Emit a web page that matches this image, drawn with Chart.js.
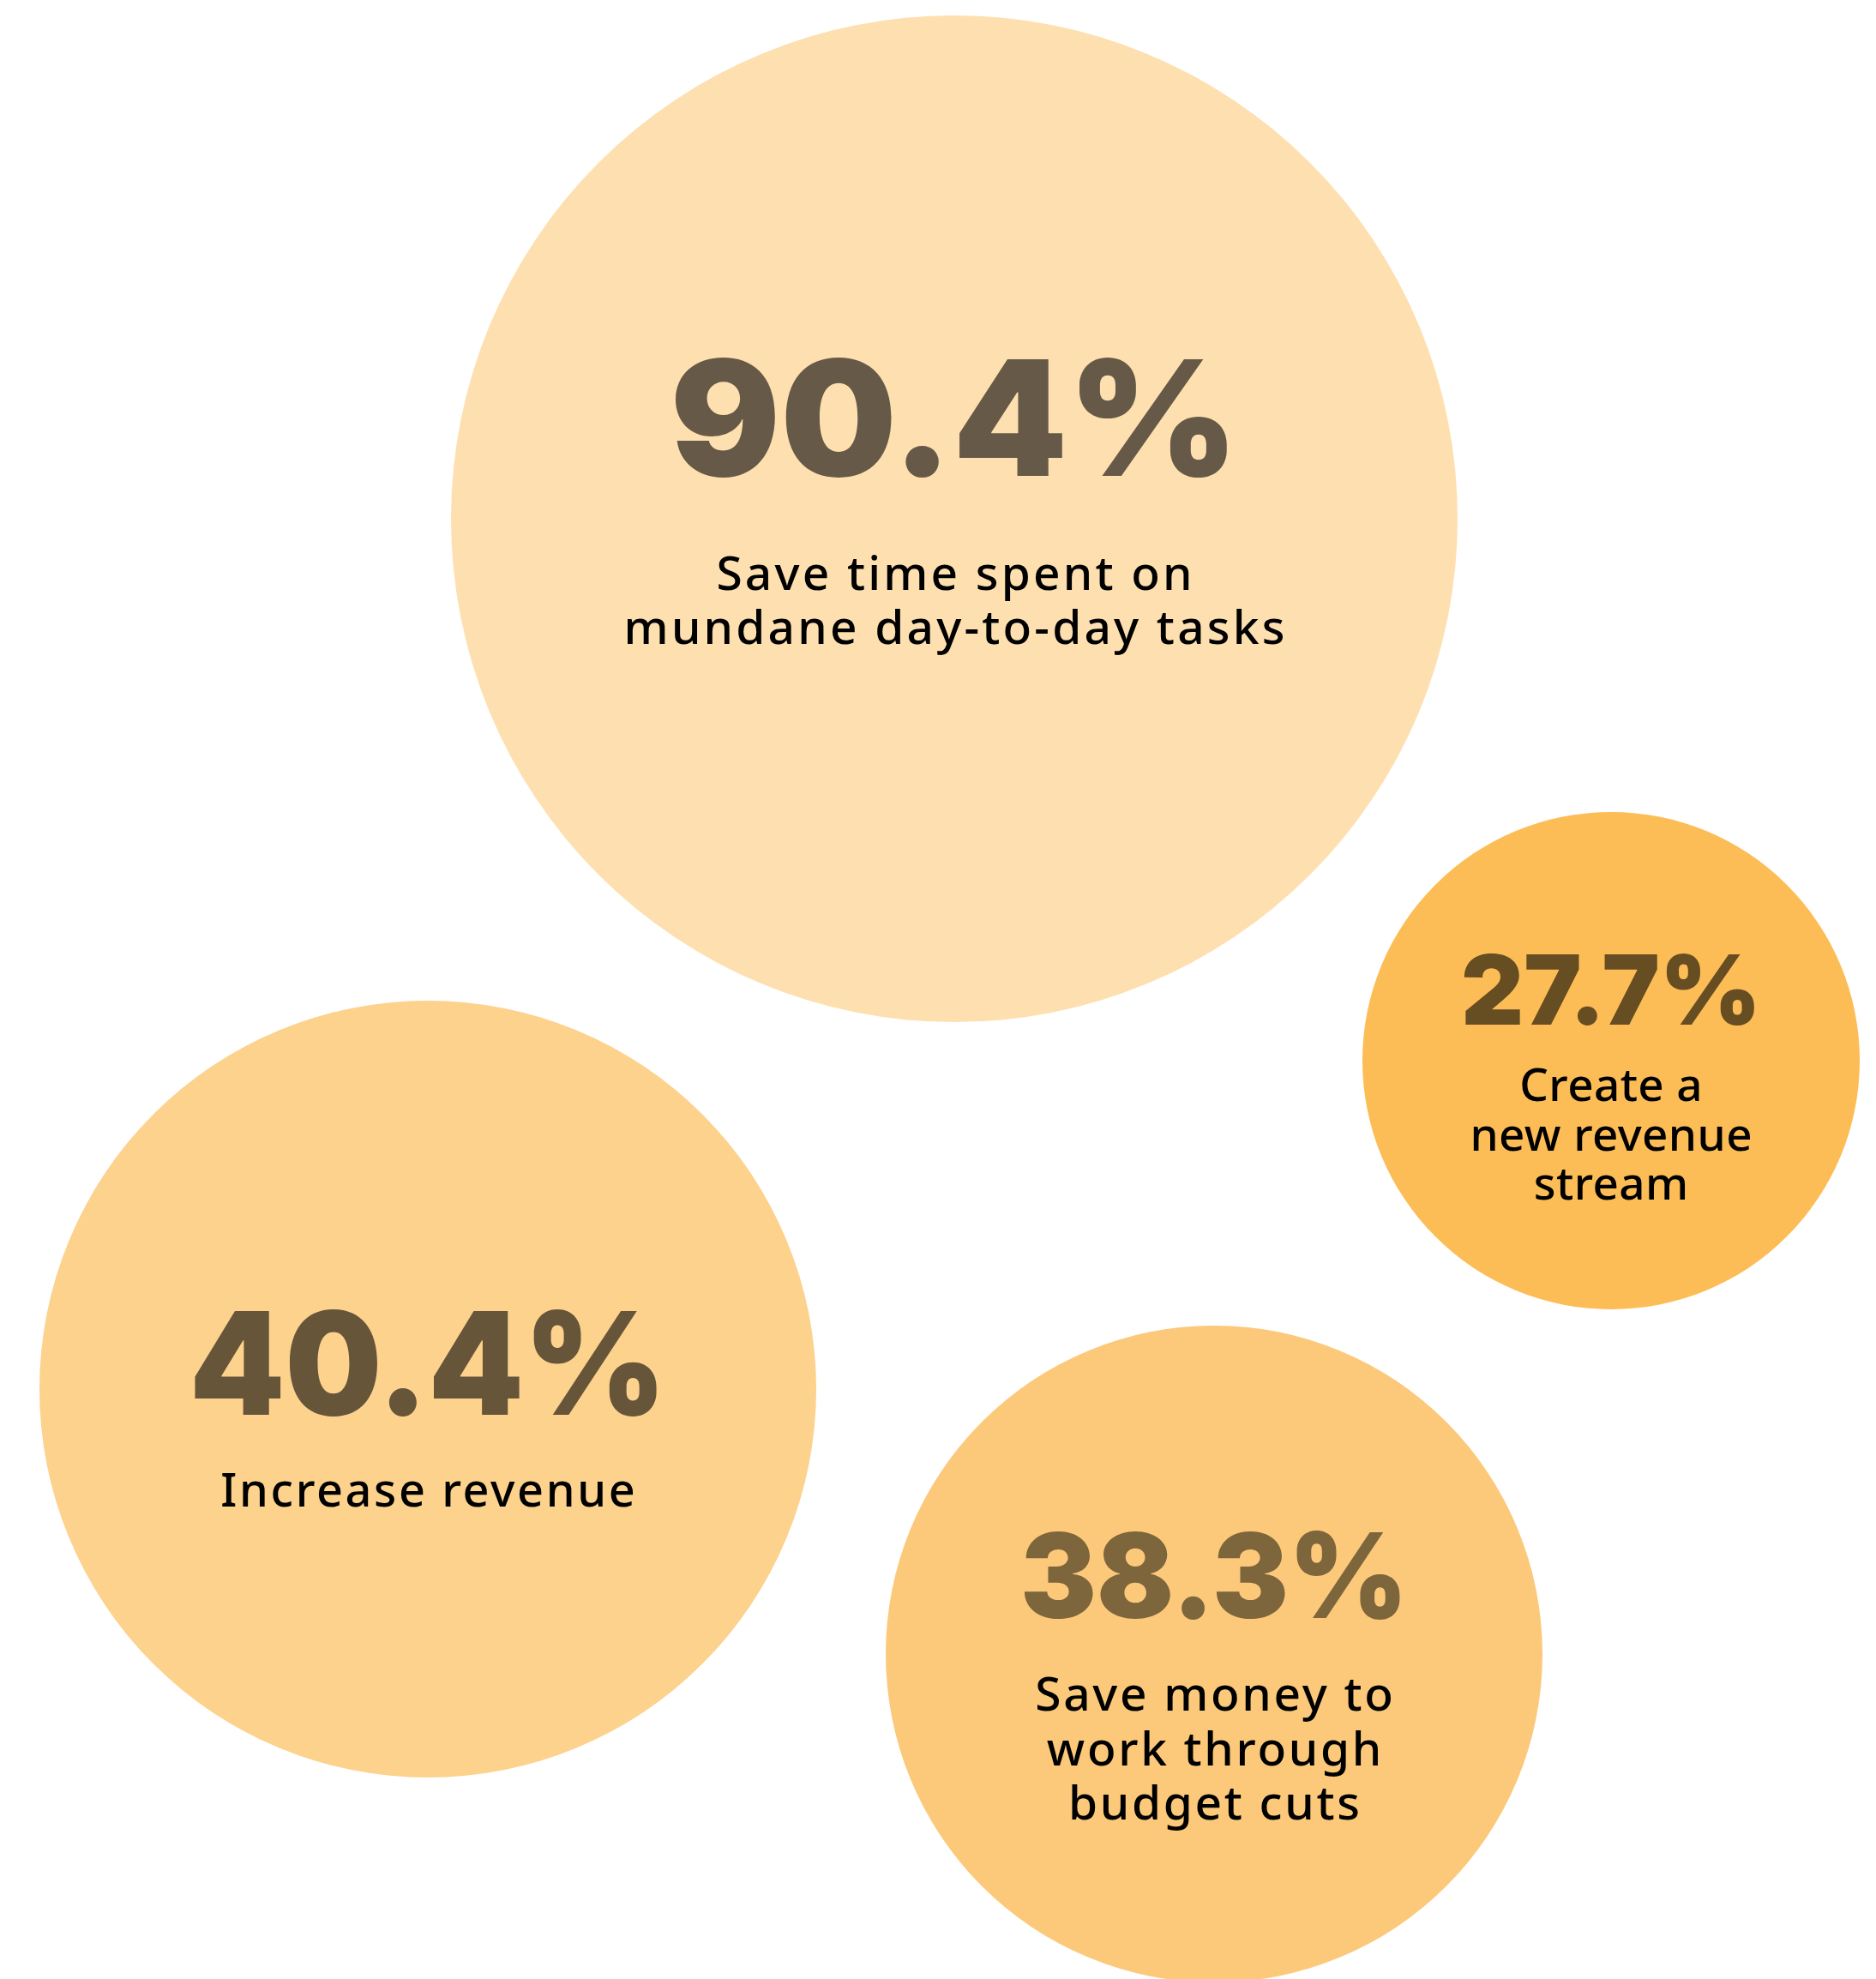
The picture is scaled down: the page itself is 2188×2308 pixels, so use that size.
<!DOCTYPE html>
<html>
<head>
<meta charset="utf-8">
<script src="https://cdn.jsdelivr.net/npm/chart.js@4.4.1/dist/chart.umd.min.js"></script>
<style>
  html, body { margin: 0; padding: 0; background: #ffffff; }
  #wrap { width: 2188px; height: 2308px; position: relative; }
</style>
</head>
<body>
<div id="wrap"><canvas id="bubbles"></canvas></div>
<script>
/* ---------- datos ---------- */
const values = [90.4, 40.4, 38.3, 27.7];
const descriptions = [
  ["Save time spent on", "mundane day-to-day tasks"],
  ["Increase revenue"],
  ["Save money to", "work through", "budget cuts"],
  ["Create a", "new revenue", "stream"],
];

/* ---------- layout (px del lienzo) ---------- */
const posX = [1113, 499, 1416, 1879];
const posY = [605, 1620, 1929, 1237];
const radius = [587, 453, 383, 290];

const fillColors = ["#fee0b0", "#fcd28d", "#fcc97b", "#fdbd56"];
const numColors  = ["#675948", "#67553a", "#7d653c", "#674d22"];

// número: línea base relativa al centro, altura de mayúscula, ancho total
const numBase  = [-50, 30, -42, -42];
const numCap   = [136, 121, 100, 82];
const numWidth = [663, 556, 452, 350];
// texto: primera línea base relativa al centro, interlineado, tamaño, tracking
const txtBase = [83, 137, 66, 47];
const txtLine = [63, 63, 63.5, 57.5];
const txtSize = [55, 54, 55, 53];
const txtTrack = [3.2, 2.6, 2.7, 0.4];

const NUM_FONT = "Inter";
const TXT_FONT = "'Noto Sans'";

const labelsPlugin = {
  id: "bubbleLabels",
  afterDatasetsDraw(chart) {
    const ctx = chart.ctx;
    const meta = chart.getDatasetMeta(0);
    meta.data.forEach((pt, i) => {
      const cx = pt.x, cy = pt.y;
      ctx.save();
      ctx.textAlign = "center";
      ctx.textBaseline = "alphabetic";

      // valor en grande, estirado al ancho del diseño
      const size = numCap[i] / 0.727;
      ctx.font = `900 ${size}px ${NUM_FONT}`;
      const txt = values[i].toFixed(1) + "%";
      const w = ctx.measureText(txt).width;
      const sx = numWidth[i] / w;
      ctx.fillStyle = numColors[i];
      ctx.save();
      ctx.translate(cx, cy + numBase[i]);
      ctx.scale(sx, 1);
      ctx.fillText(txt, 0, 0);
      ctx.restore();

      // descripción
      ctx.font = `500 ${txtSize[i]}px ${TXT_FONT}`;
      ctx.letterSpacing = txtTrack[i] + "px";
      ctx.fillStyle = "#000000";
      descriptions[i].forEach((line, k) => {
        ctx.fillText(line, cx + txtTrack[i] / 2, cy + txtBase[i] + k * txtLine[i]);
      });
      ctx.restore();
    });
  },
};

const canvas = document.getElementById("bubbles");
new Chart(canvas, {
  type: "bubble",
  data: {
    datasets: [{
      data: values.map((v, i) => ({ x: posX[i], y: posY[i], r: radius[i], v })),
      backgroundColor: fillColors,
      borderWidth: 0,
      hoverBorderWidth: 0,
      clip: false,
    }],
  },
  options: {
    responsive: true,
    maintainAspectRatio: false,
    animation: false,
    events: [],
    layout: { padding: 0, autoPadding: false },
    plugins: { legend: { display: false }, tooltip: { enabled: false } },
    scales: {
      x: { type: "linear", min: 0, max: 2188, display: false },
      y: { type: "linear", min: 0, max: 2308, reverse: true, display: false },
    },
  },
  plugins: [labelsPlugin],
});
</script>
</body>
</html>
